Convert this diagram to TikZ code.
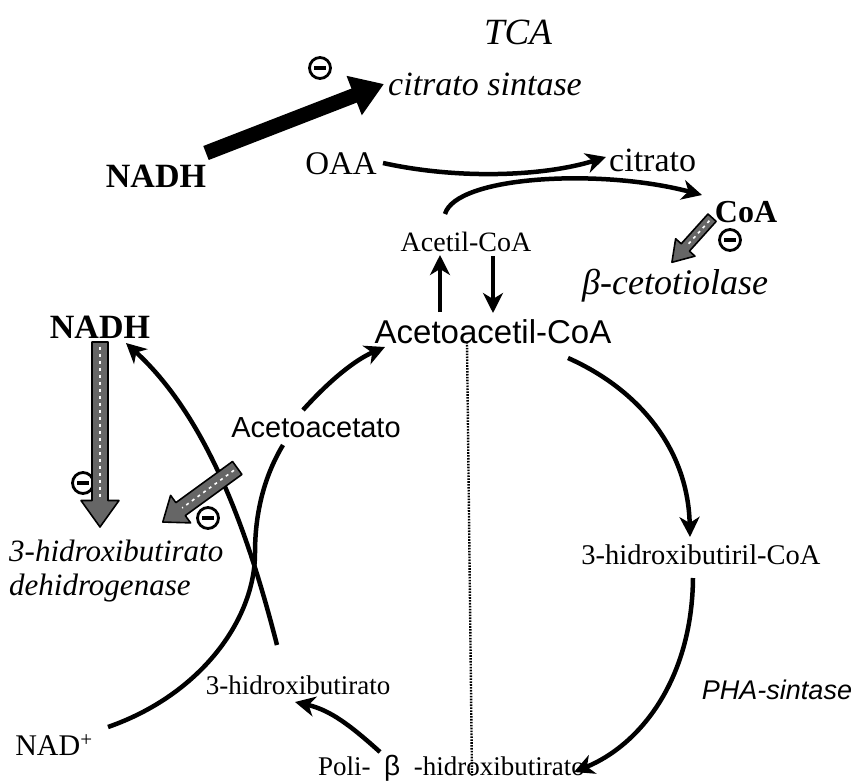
\documentclass[tikz,border=0pt]{standalone}
\usepackage{fontspec}
\setmainfont{Liberation Serif}
\newfontfamily\arialf{Liberation Sans}
\usetikzlibrary{arrows.meta}
\begin{document}
\begin{tikzpicture}[x=1pt,y=-1pt,
  every node/.style={inner sep=0pt},
  inh/.style={circle, draw, line width=2.8pt, minimum size=21pt, inner sep=0pt,
    path picture={\fill (path picture bounding box.center) +(-6pt,-1.8pt) rectangle +(6pt,1.8pt);}},
  arr/.style={line width=4.5pt, -{Stealth[length=20pt,width=20pt,inset=6pt]}},
  hatch/.style={fill=black!60, draw=black, line width=1.6pt, line join=round},
  hdash/.style={white, line width=1.6pt, dash pattern=on 3pt off 4pt}
]
\useasboundingbox[fill=white] (0,0) rectangle (855,782);

% texts
\node[font=\itshape\fontsize{37}{37}\selectfont] (tca) at (518,32) {TCA};
\node[font=\itshape\fontsize{34}{34}\selectfont, anchor=west] (cs) at (388,84) {citrato sintase};
\node[inh] (i1) at (320,68) {};
\node[font=\bfseries\fontsize{34}{34}\selectfont] (nadh1) at (156,176) {NADH};
\node[font=\fontsize{33}{33}\selectfont] (oaa) at (341,164) {OAA};
\node[font=\fontsize{34}{34}\selectfont, anchor=west] (cit) at (609,160) {citrato};
\node[font=\bfseries\fontsize{32}{32}\selectfont] (coa) at (746,212) {CoA};
\node[inh] (i2) at (730,240) {};
\node[font=\itshape\fontsize{36}{36}\selectfont, anchor=west] (bct) at (582,286) {β-cetotiolase};
\node[font=\fontsize{28}{28}\selectfont] (acoa) at (466,242) {Acetil-CoA};
\node[font=\arialf\fontsize{33}{33}\selectfont] (aacoa) at (493,332) {Acetoacetil-CoA};
\node[font=\bfseries\fontsize{34}{34}\selectfont] (nadh2) at (100,327) {NADH};
\node[font=\arialf\fontsize{29}{29}\selectfont] (aa) at (316,428) {Acetoacetato};
\node[font=\itshape\fontsize{31}{34}\selectfont, anchor=north west, align=left] (hbd) at (9,540) {3-hidroxibutirato\\dehidrogenase};
\node[font=\fontsize{28.5}{28.5}\selectfont] (hbcoa) at (701,555) {3-hidroxibutiril-CoA};
\node[font=\arialf\itshape\fontsize{27}{27}\selectfont] (pha) at (777,690) {PHA-sintase};
\node[font=\fontsize{27}{27}\selectfont] (hb) at (298,685) {3-hidroxibutirato};
\node[font=\fontsize{30}{30}\selectfont] (nad) at (54,745) {NAD\textsuperscript{+}};
\node[font=\fontsize{27}{27}\selectfont, anchor=west] (phb) at (318,768) {Poli-\ \ {\arialf\fontsize{28}{28}\selectfont β}\ \ -hidroxibutirato};
\node[inh] (i3) at (83,483) {};
\node[inh] (i4) at (208,518) {};

% coordinates for connectors
\coordinate (bigS) at (206,153);
\coordinate (bigE) at (384,84);
\coordinate (oaaE) at (383,163);
\coordinate (citW) at (606,157);
\coordinate (acoaN) at (445,214);
\coordinate (coaW) at (702,195);
\coordinate (upS) at (440,312);
\coordinate (upE) at (440,255);
\coordinate (dnS) at (493,256);
\coordinate (dnE) at (493,313);
\coordinate (aaN) at (303,410);
\coordinate (aacoaW) at (385,347);
\coordinate (nadE) at (108,727);
\coordinate (aaS) at (283,445);
\coordinate (hbN) at (277,645);
\coordinate (nadh2E) at (126,343);
\coordinate (aacoaE) at (568,358);
\coordinate (hbcoaN) at (690,537);
\coordinate (hbcoaS) at (693,578);
\coordinate (phbE) at (574,772);
\coordinate (phbW) at (380,752);
\coordinate (hbS) at (295,702);
\coordinate (dotT) at (467,342);
\coordinate (dotB) at (472,776);

% big NADH inhibition arrow
\draw[line width=15pt, -{Triangle[length=32pt,width=40pt]}] (bigS) -- (bigE);

% TCA curves
\draw[arr] (oaaE) .. controls (460,180) and (545,176) .. (citW);
\draw[arr] (acoaN) .. controls (456,176) and (600,168) .. (coaW);
\draw[arr] (upS) -- (upE);
\draw[arr] (dnS) -- (dnE);

% left cycle
\draw[arr] (aaN) .. controls (330,380) and (355,360) .. (aacoaW);
\draw[line width=4.5pt] (nadE) .. controls (200,695) and (255,620) .. (255,553) .. controls (255,505) and (268,470) .. (aaS);
\draw[arr] (hbN) .. controls (250,540) and (210,420) .. (nadh2E);
\draw[arr] (phbW) .. controls (350,725) and (330,710) .. (hbS);

% right cycle
\draw[arr] (aacoaE) .. controls (640,390) and (688,450) .. (hbcoaN);
\draw[arr] (hbcoaS) .. controls (692,680) and (640,745) .. (phbE);

% dotted line
\draw[line width=2.4pt, dash pattern=on 1.6pt off 1.3pt] (dotT) -- (dotB);

% hatched arrows
\coordinate (h1) at (100,434.5);
\begin{scope}[shift={(h1)}, rotate=-90]
  \draw[hatch] (-92.5,-8) -- (66,-8) -- (66,-19) -- (92.5,0) -- (66,19) -- (66,8) -- (-92.5,8) -- cycle;
  \draw[hdash] (-88,0) -- (62,0);
\end{scope}
\coordinate (h2) at (200,495);
\begin{scope}[shift={(h2)}, rotate=216]
  \draw[hatch] (-46,-8) -- (24,-8) -- (24,-17) -- (46,0) -- (24,17) -- (24,8) -- (-46,8) -- cycle;
  \draw[hdash] (-42,0) -- (22,0);
\end{scope}
\coordinate (h3) at (692,240);
\begin{scope}[shift={(h3)}, rotate=228]
  \draw[hatch] (-30,-5.5) -- (10,-5.5) -- (10,-13) -- (30,0) -- (10,13) -- (10,5.5) -- (-30,5.5) -- cycle;
  \draw[hdash] (-26,0) -- (8,0);
\end{scope}
\end{tikzpicture}
\end{document}
